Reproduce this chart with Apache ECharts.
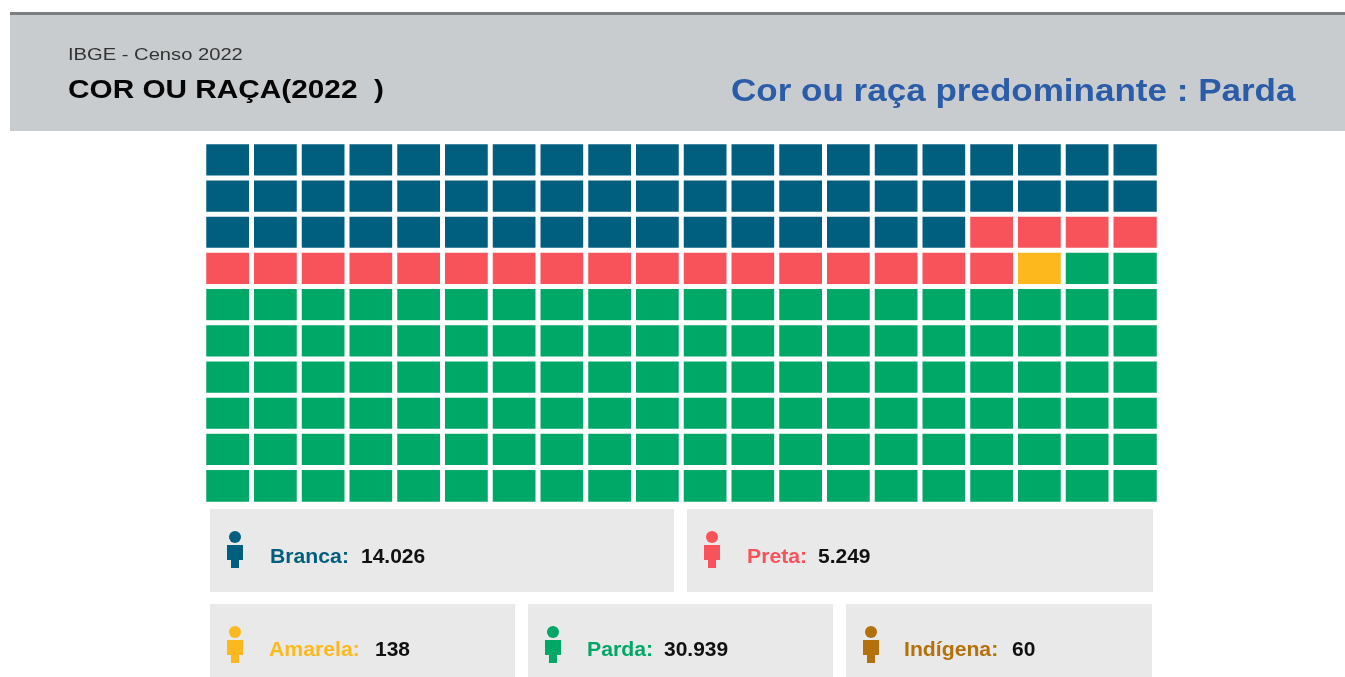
<!DOCTYPE html>
<html>
<head>
<meta charset="utf-8">
<title>Cor ou raça</title>
<style>
  html, body { margin: 0; padding: 0; background: #fff; overflow: hidden; }
  #chart { width: 1345px; height: 677px; }
</style>
<script src="https://cdn.jsdelivr.net/npm/echarts@6/dist/echarts.min.js"></script>
</head>
<body>
<div id="chart"></div>
<script>
// dados
const categories = ['Branca', 'Preta', 'Amarela', 'Parda', 'Indígena'];
const populacao = ['14.026', '5.249', '138', '30.939', '60'];
const cellCounts = [56, 21, 1, 122, 0]; // quadradinhos por categoria, total 200
const colors = ['#005f7f', '#f8525a', '#fdb81e', '#00a868', '#b4700b'];
const numCols = 20;
const numRows = 10;

// posicao dos cartoes: card x, y, w, h, texto x, valor x
const cards = [
  [210, 509, 464, 83, 270, 361],
  [687, 509, 466, 83, 747, 818],
  [210, 604, 305, 73, 269, 375],
  [528, 604, 305, 73, 587, 664],
  [846, 604, 306, 73, 904, 1012]
];
const cardOrder = [0, 1, 2, 3, 4];

const cols = [];
for (let i = 0; i < numCols; i++) cols.push(String(i));
const rows = [];
for (let i = 0; i < numRows; i++) rows.push(String(i));

const cells = [];
cellCounts.forEach(function (n, cat) {
  for (let i = 0; i < n; i++) {
    const idx = cells.length;
    cells.push([idx % numCols, Math.floor(idx / numCols), cat]);
  }
});

const font = '"Liberation Sans", Arial, sans-serif';

const graphics = [
  { type: 'rect', shape: { x: 10, y: 12, width: 1335, height: 119 }, style: { fill: '#c9cccf' }, silent: true },
  { type: 'rect', shape: { x: 10, y: 12, width: 1335, height: 3 }, style: { fill: '#7d7f81' }, silent: true },
  { type: 'text', x: 68, y: 56, scaleX: 1.26, silent: true, style: { text: 'IBGE - Censo 2022', fill: '#333', font: '16px ' + font, verticalAlign: 'middle' } },
  { type: 'text', x: 68, y: 91, scaleX: 1.145, silent: true, style: { text: 'COR OU RAÇA(2022  )', fill: '#050505', font: 'bold 26px ' + font, verticalAlign: 'middle' } },
  { type: 'text', x: 731, y: 92, scaleX: 1.13, silent: true, style: { text: 'Cor ou raça predominante : Parda', fill: '#2a5ca8', font: 'bold 31px ' + font, verticalAlign: 'middle' } }
];

cardOrder.forEach(function (i) {
  const c = cards[i];
  const iconY = c[1] + 46;
  const textY = c[1] + (i < 2 ? 48 : 46);
  const ix = c[0] + 25;
  graphics.push(
    { type: 'rect', shape: { x: c[0], y: c[1], width: c[2], height: c[3] }, style: { fill: '#e9e9e9' }, silent: true },
    { type: 'circle', shape: { cx: ix, cy: iconY - 18, r: 6 }, style: { fill: colors[i] }, silent: true },
    { type: 'rect', shape: { x: ix - 8, y: iconY - 10, width: 16, height: 15 }, style: { fill: colors[i] }, silent: true },
    { type: 'rect', shape: { x: ix - 4, y: iconY + 5, width: 8, height: 8 }, style: { fill: colors[i] }, silent: true },
    { type: 'text', x: c[4], y: textY, scaleX: 1.06, silent: true, style: { text: categories[i] + ':', fill: colors[i], font: 'bold 20px ' + font, verticalAlign: 'middle' } },
    { type: 'text', x: c[5], y: textY, scaleX: 1.05, silent: true, style: { text: populacao[i], fill: '#111', font: 'bold 20px ' + font, verticalAlign: 'middle' } }
  );
});

const myChart = echarts.init(document.getElementById('chart'), null, { renderer: 'canvas' });
myChart.setOption({
  animation: false,
  backgroundColor: '#fff',
  grid: { left: 204, top: 142, width: 955, height: 362 },
  xAxis: { type: 'category', data: cols, show: false },
  yAxis: { type: 'category', data: rows, inverse: true, show: false },
  visualMap: {
    show: false,
    type: 'piecewise',
    dimension: 2,
    pieces: categories.map(function (name, i) {
      return { value: i, label: name, color: colors[i] };
    })
  },
  graphic: graphics,
  series: [
    {
      type: 'heatmap',
      data: cells,
      silent: true,
      itemStyle: { borderColor: '#fff', borderWidth: 5 },
      emphasis: { disabled: true }
    }
  ]
});
</script>
</body>
</html>
